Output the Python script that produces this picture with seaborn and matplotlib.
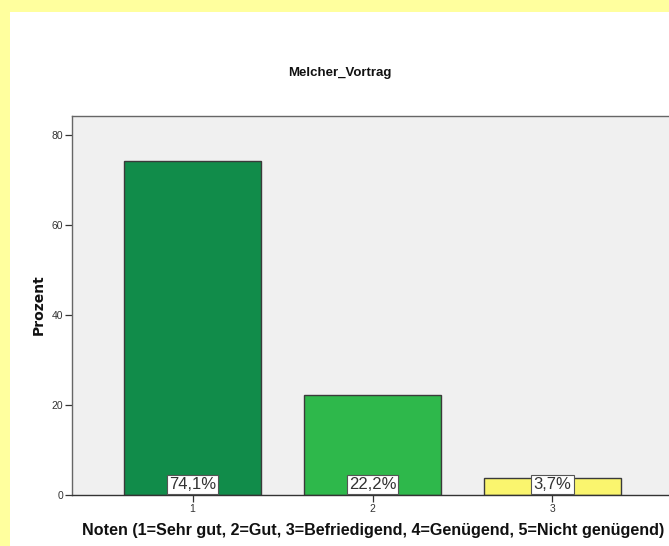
import matplotlib
matplotlib.use("Agg")
import matplotlib.pyplot as plt
import seaborn as sns
import pandas as pd
from matplotlib.patches import Rectangle

# Data
categories = ["1", "2", "3"]
percent = [74.1, 22.2, 3.7]
colors = ["#118C4A", "#2EB84B", "#FAF56E"]
title = "Melcher_Vortrag"
ylabel = "Prozent"
xlabel = "Noten (1=Sehr gut, 2=Gut, 3=Befriedigend, 4=Genügend, 5=Nicht genügend)"
yticks = [0, 20, 40, 60, 80]

df = pd.DataFrame({"Note": categories, "Prozent": percent})

sns.set_style("white")
plt.rcParams["font.family"] = ["Liberation Sans", "DejaVu Sans"]

W, H = 669, 546
fig = plt.figure(figsize=(W / 100, H / 100), dpi=100)
fig.patch.set_facecolor("#FFFF9E")
fig.patches.append(Rectangle((10 / W, 0), 1, 1 - 12 / H, transform=fig.transFigure,
                             facecolor="white", edgecolor="none", zorder=-5))

left_px, right_px, top_px, bottom_px = 72.3, 672.7, 115.7, 495
ax = fig.add_axes([left_px / W, 1 - bottom_px / H, (right_px - left_px) / W,
                   (bottom_px - top_px) / H])
ax.set_zorder(3)
ax.set_facecolor("#F0F0F0")

sns.barplot(data=df, x="Note", y="Prozent", hue="Note", palette=colors,
            saturation=1, width=0.756, edgecolor="#3A3A3A", linewidth=1.0,
            legend=False, ax=ax, zorder=2)

for i, v in enumerate(percent):
    lbl = f"{v:.1f}%".replace(".", ",")
    ax.annotate(lbl, xy=(i, 0), xytext=(0, 2.0), textcoords="offset points",
                ha="center", va="bottom", fontsize=12, color="#333333",
                bbox=dict(boxstyle="square,pad=0.13", facecolor="white",
                          edgecolor="#555555", linewidth=0.8), zorder=5)

ax.set_xlim(-0.668, 2.668)
ax.set_ylim(0, 84.2)
ax.set_yticks(yticks)
ax.set_yticklabels([str(t) for t in yticks])
ax.tick_params(axis="both", which="both", direction="out", length=5, width=0.9,
               colors="#333333", labelsize=7.5, pad=1.5, left=True, bottom=True)

for s in ["left", "top", "right"]:
    ax.spines[s].set_color("#666666")
    ax.spines[s].set_linewidth(1.0)
ax.spines["bottom"].set_color("#333333")
ax.spines["bottom"].set_linewidth(1.0)

ax.set_xlabel("")
ax.set_ylabel("")

fig.text(340 / W, 1 - 73 / H, title, ha="center", va="center", fontsize=9.5,
         fontweight="bold", color="#111111", zorder=4)
fig.text(39 / W, 1 - 305 / H, ylabel, ha="center", va="center", rotation=90,
         fontsize=10, fontweight="bold", family=["DejaVu Sans"], color="#111111",
         zorder=4)
fig.text(82 / W, 1 - 531 / H, xlabel, ha="left", va="center", fontsize=11.6,
         fontweight="bold", color="#111111", zorder=4)

fig.savefig("out.png", dpi=100, facecolor=fig.get_facecolor())
